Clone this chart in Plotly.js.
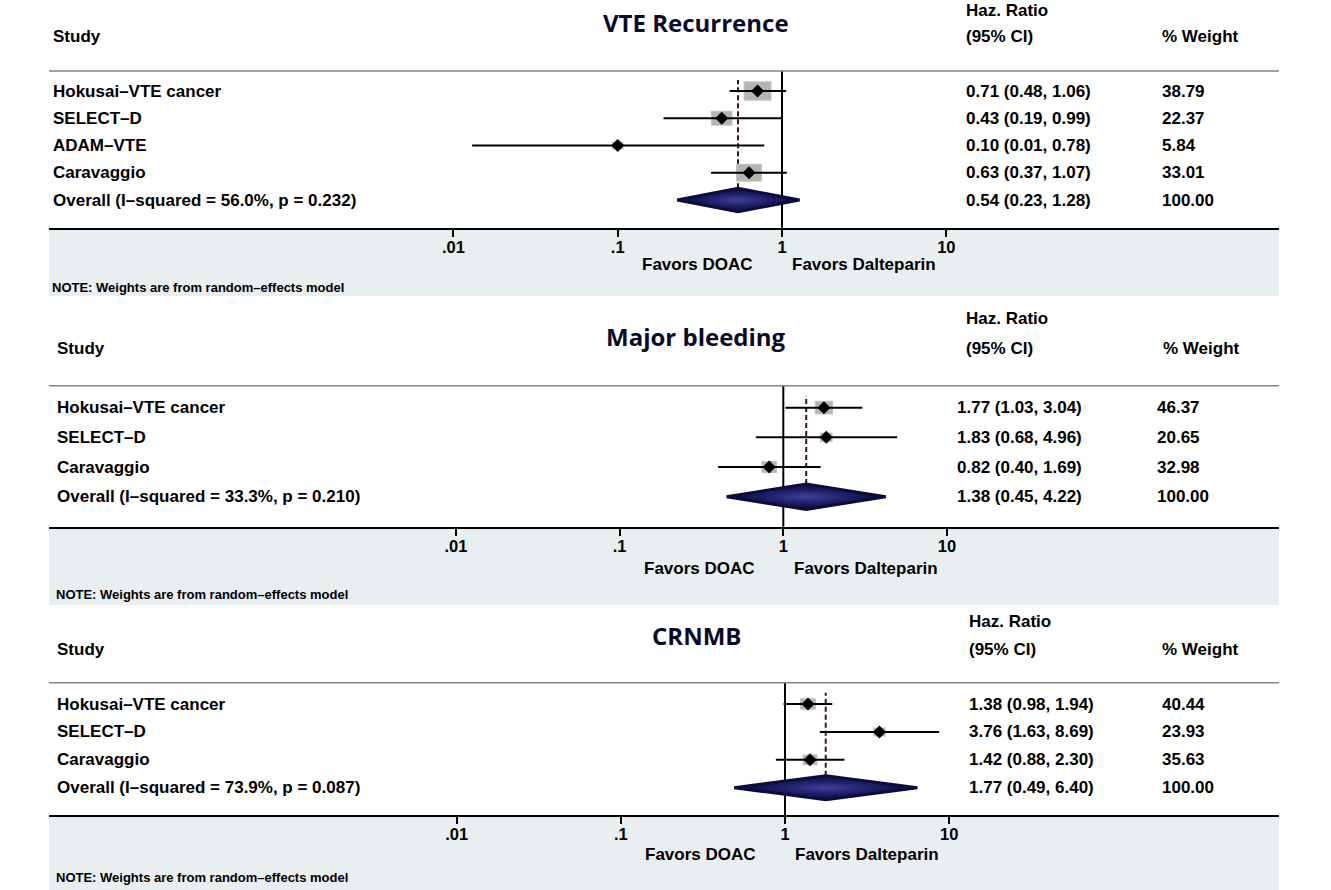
<!DOCTYPE html>
<html><head><meta charset="utf-8">
<script src="https://cdn.plot.ly/plotly-3.0.1.min.js"></script>
<style>html,body{margin:0;padding:0;background:#fff}#chart{width:1331px;height:890px}</style>
</head><body><div id="chart"></div>
<script>
// ---------------- data ----------------
const vteStudies = ['Hokusai–VTE cancer', 'SELECT–D', 'ADAM–VTE', 'Caravaggio'];
const vteHR      = [0.71, 0.43, 0.10, 0.63];
const vteLower   = [0.48, 0.19, 0.013, 0.37];
const vteUpper   = [1.06, 0.99, 0.78, 1.07];
const vteWeight  = [38.79, 22.37, 5.84, 33.01];
const vteOverall = [0.54, 0.23, 1.28];          // HR, lower, upper
const vteHet     = ['56.0%', '0.232'];          // I-squared, p

const bleedStudies = ['Hokusai–VTE cancer', 'SELECT–D', 'Caravaggio'];
const bleedHR      = [1.77, 1.83, 0.82];
const bleedLower   = [1.03, 0.68, 0.40];
const bleedUpper   = [3.04, 4.96, 1.69];
const bleedWeight  = [46.37, 20.65, 32.98];
const bleedOverall = [1.38, 0.45, 4.22];
const bleedHet     = ['33.3%', '0.210'];

const crnmbStudies = ['Hokusai–VTE cancer', 'SELECT–D', 'Caravaggio'];
const crnmbHR      = [1.38, 3.76, 1.42];
const crnmbLower   = [0.98, 1.63, 0.88];
const crnmbUpper   = [1.94, 8.69, 2.30];
const crnmbWeight  = [40.44, 23.93, 35.63];
const crnmbOverall = [1.77, 0.49, 6.40];
const crnmbHet     = ['73.9%', '0.087'];

const tickValues = [0.01, 0.1, 1, 10];
const tickLabels = ['.01', '.1', '1', '10'];
const favorLabels = ['Favors DOAC', 'Favors Dalteparin'];
const noteText = 'NOTE: Weights are from random–effects model';

// ---------------- layout geometry / style ----------------
const W = 1331, H = 890, X0 = 49, X1 = 1279;
const px = v => v / W;
const py = v => 1 - v / H;
const FONT = 'Liberation Sans, Arial, Helvetica, sans-serif';
const txt = (size) => ({family: FONT, size: size, color: '#000', weight: 'bold'});
const titleFont = {family: 'Open Sans, Noto Sans, sans-serif', size: 24, color: '#0a0a28', weight: 'bold'};
const BODY = 17;

const panels = [
  {title: 'VTE Recurrence', studies: vteStudies, hr: vteHR, lo: vteLower, hi: vteUpper, wt: vteWeight, ov: vteOverall, het: vteHet,
   g: {title: 22, hz: 10, hdr: 37, top: 71, first: 91, last: 200, axis: 227.7, bgBottom: 296, favors: 265, note: 287,
       xOne: 782, decade: 164.3, studyX: 51, hzX: 964, hrX: 964, wtX: 1160, wtHdrX: 1160, boxW: 4.3, boxH: 2.9, favL: 697, favR: 864}},
  {title: 'Major bleeding', studies: bleedStudies, hr: bleedHR, lo: bleedLower, hi: bleedUpper, wt: bleedWeight, ov: bleedOverall, het: bleedHet,
   g: {title: 336, hz: 318, hdr: 348, top: 385.7, first: 407.7, last: 496.7, axis: 526.7, bgBottom: 605, favors: 568, note: 594,
       xOne: 783.3, decade: 163.7, studyX: 55, hzX: 964, hrX: 955, wtX: 1155, wtHdrX: 1161, boxW: 2.5, boxH: 1.85, favL: 699, favR: 866}},
  {title: 'CRNMB', studies: crnmbStudies, hr: crnmbHR, lo: crnmbLower, hi: crnmbUpper, wt: crnmbWeight, ov: crnmbOverall, het: crnmbHet,
   g: {title: 635, hz: 621, hdr: 649, top: 682.7, first: 704, last: 787.7, axis: 815, bgBottom: 890, favors: 854, note: 877,
       xOne: 785, decade: 164.2, studyX: 55, hzX: 967, hrX: 967, wtX: 1160, wtHdrX: 1160, boxW: 2.3, boxH: 1.6, favL: 700, favR: 867}}
];

const DIAMOND_HALF = 0.43;
const data = [];
const shapes = [];
const annotations = [];
const layout = {
  width: W, height: H, margin: {l: 0, r: 0, t: 0, b: 0},
  paper_bgcolor: '#ffffff', plot_bgcolor: 'rgba(0,0,0,0)',
  showlegend: false, shapes: shapes, annotations: annotations
};

const fmt = v => v.toFixed(2);

panels.forEach((p, i) => {
  const g = p.g;
  const sfx = i === 0 ? '' : String(i + 1);
  const xa = 'x' + sfx, ya = 'y' + sfx;
  const n = p.studies.length + 1;
  const rows = p.studies.map((_, k) => n - k);
  const sp = (g.last - g.first) / (n - 1);
  const yTop = n + (g.first - g.top) / sp;
  const yBot = 1 - (g.axis - g.last) / sp;

  layout['xaxis' + sfx] = {
    type: 'log', anchor: ya, domain: [px(X0), px(X1)],
    range: [-(g.xOne - X0) / g.decade, (X1 - g.xOne) / g.decade],
    tickvals: tickValues, ticktext: tickLabels, ticks: 'outside', ticklen: 7, tickwidth: 2, tickcolor: '#000',
    ticklabelstandoff: -4,
    showline: true, linecolor: '#000', linewidth: 2, showgrid: false, zeroline: false,
    tickfont: txt(16.5), fixedrange: true
  };
  layout['yaxis' + sfx] = {
    anchor: xa, domain: [py(g.axis), py(g.top)], range: [yBot, yTop],
    visible: false, fixedrange: true
  };

  // background band under the axis
  shapes.push({type: 'rect', xref: 'paper', yref: 'paper', x0: px(X0), x1: px(X1), y0: py(g.axis + 1.5), y1: py(g.bgBottom),
               fillcolor: '#e9eef1', line: {width: 0}, layer: 'below'});
  // top separator line
  shapes.push({type: 'line', xref: 'paper', yref: 'paper', x0: px(X0), x1: px(X1), y0: py(g.top), y1: py(g.top),
               line: {color: '#858585', width: 1.5}});
  // null line at HR = 1
  shapes.push({type: 'line', xref: xa, yref: ya + ' domain', x0: 1, x1: 1, y0: 0, y1: 1,
               line: {color: '#000', width: 2}, layer: 'below'});
  // overall effect dashed line
  shapes.push({type: 'line', xref: xa, yref: ya, x0: p.ov[0], x1: p.ov[0], y0: 1 + DIAMOND_HALF, y1: n + 0.4,
               line: {color: '#3a1212', width: 2, dash: '5px,3px'}, layer: 'below'});

  // weight boxes (area follows the study weight; pixel half-sizes turned into axis units)
  const bx = [], by = [];
  p.hr.forEach((v, k) => {
    const s = Math.sqrt(p.wt[k]);
    const hw = g.boxW * s / 2 / g.decade;       // decades
    const hh = g.boxH * s / 2 / sp;             // row units
    const xl = v * Math.pow(10, -hw), xr = v * Math.pow(10, hw);
    bx.push(xl, xr, xr, xl, xl, null);
    by.push(rows[k] - hh, rows[k] - hh, rows[k] + hh, rows[k] + hh, rows[k] - hh, null);
  });
  data.push({type: 'scatter', mode: 'lines', x: bx, y: by, xaxis: xa, yaxis: ya,
             fill: 'toself', fillcolor: '#b4b4b4', line: {color: '#c2c2c2', width: 1.2}, hoverinfo: 'skip'});

  // confidence interval lines
  const cx = [], cy = [];
  p.hr.forEach((v, k) => { cx.push(p.lo[k], p.hi[k], null); cy.push(rows[k], rows[k], null); });
  data.push({type: 'scatter', mode: 'lines', x: cx, y: cy, xaxis: xa, yaxis: ya,
             line: {color: '#000', width: 2}, hoverinfo: 'skip'});
  // point estimates
  data.push({type: 'scatter', mode: 'markers', x: p.hr, y: rows, xaxis: xa, yaxis: ya,
             marker: {symbol: 'diamond', size: 10, color: '#000'}, hoverinfo: 'x'});
  // pooled diamond
  data.push({type: 'scatter', mode: 'lines', xaxis: xa, yaxis: ya,
             x: [p.ov[1], p.ov[0], p.ov[2], p.ov[0], p.ov[1]],
             y: [1, 1 + DIAMOND_HALF, 1, 1 - DIAMOND_HALF, 1],
             fill: 'toself', fillcolor: '#1b1b60',
             fillgradient: {type: 'radial', colorscale: [[0, '#40409a'], [0.5, '#1f1f68'], [1, '#0a0a36']]},
             line: {color: '#0c0c3c', width: 3}, hoverinfo: 'skip'});

  // titles & headers
  annotations.push({text: p.title, xref: 'paper', yref: 'paper', x: px(696), y: py(g.title), xanchor: 'center', yanchor: 'middle',
                    showarrow: false, font: titleFont});
  const hdr = (t, x, y) => annotations.push({text: t, xref: 'paper', yref: 'paper', x: px(x), y: py(y),
                    xanchor: 'left', yanchor: 'middle', showarrow: false, font: txt(BODY)});
  hdr('Study', g.studyX, g.hdr);
  hdr('Haz. Ratio', g.hzX, g.hz);
  hdr('(95% CI)', g.hzX, g.hdr);
  hdr('% Weight', g.wtHdrX, g.hdr);

  // row texts
  const rowText = (t, x, y) => annotations.push({text: t, xref: 'paper', yref: ya, x: px(x), y: y,
                    xanchor: 'left', yanchor: 'middle', showarrow: false, font: txt(BODY)});
  p.studies.forEach((s, k) => {
    rowText(s, g.studyX, rows[k]);
    rowText(fmt(p.hr[k]) + ' (' + fmt(p.lo[k]) + ', ' + fmt(p.hi[k]) + ')', g.hrX, rows[k]);
    rowText(fmt(p.wt[k]), g.wtX, rows[k]);
  });
  rowText('Overall (I–squared = ' + p.het[0] + ', p = ' + p.het[1] + ')', g.studyX, 1);
  rowText(fmt(p.ov[0]) + ' (' + fmt(p.ov[1]) + ', ' + fmt(p.ov[2]) + ')', g.hrX, 1);
  rowText(fmt(100), g.wtX, 1);

  // favours labels & note
  annotations.push({text: favorLabels[0], xref: 'paper', yref: 'paper', x: px(g.favL), y: py(g.favors), xanchor: 'center', yanchor: 'middle',
                    showarrow: false, font: txt(17)});
  annotations.push({text: favorLabels[1], xref: 'paper', yref: 'paper', x: px(g.favR), y: py(g.favors), xanchor: 'center', yanchor: 'middle',
                    showarrow: false, font: txt(17)});
  annotations.push({text: noteText, xref: 'paper', yref: 'paper', x: px(g.studyX - 1), y: py(g.note), xanchor: 'left', yanchor: 'middle',
                    showarrow: false, font: txt(13)});
});

Plotly.newPlot('chart', data, layout, {displayModeBar: false, staticPlot: true});
</script>
</body></html>
